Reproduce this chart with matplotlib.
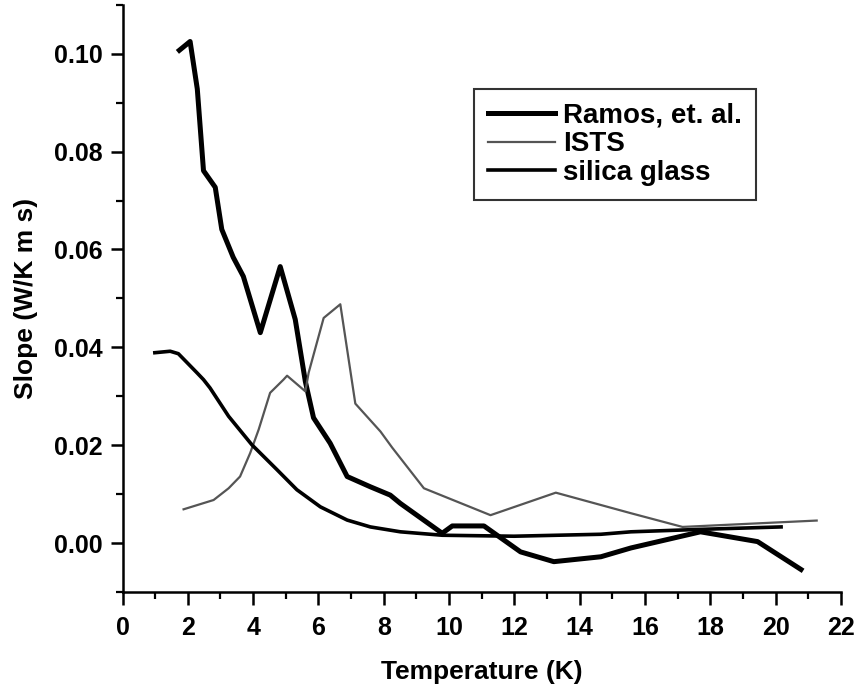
import matplotlib
matplotlib.use("Agg")
import matplotlib.pyplot as plt
from matplotlib.ticker import MultipleLocator, FormatStrFormatter

# ── Data ──────────────────────────────────────────────────────────────────────
ramos_t = [1.74, 2.07, 2.29, 2.48, 2.84, 3.04, 3.39, 3.70, 4.22, 4.83, 5.29,
           5.60, 5.85, 6.36, 6.88, 7.59, 8.20, 8.51, 9.79, 10.10, 11.07,
           12.19, 13.21, 14.65, 15.57, 17.70, 19.45, 20.78]
ramos_s = [0.1007, 0.1025, 0.0928, 0.0761, 0.0727, 0.0641, 0.0584, 0.0545,
           0.0430, 0.0565, 0.0457, 0.0330, 0.0256, 0.0204, 0.0136, 0.0115,
           0.0098, 0.0081, 0.0020, 0.0035, 0.0035, -0.0018, -0.0038,
           -0.0028, -0.0010, 0.0023, 0.0003, -0.0054]

ists_t = [1.87, 2.79, 3.25, 3.60, 3.91, 4.17, 4.52, 4.93, 5.04, 5.60, 5.70,
          6.16, 6.67, 7.13, 7.90, 8.26, 9.23, 11.27, 13.27, 15.57, 17.15,
          21.26]
ists_s = [0.0069, 0.0088, 0.0112, 0.0136, 0.0184, 0.0232, 0.0307, 0.0334,
          0.0342, 0.0310, 0.0348, 0.0460, 0.0488, 0.0285, 0.0228, 0.0195,
          0.0112, 0.0057, 0.0103, 0.0061, 0.0033, 0.0046]

silica_t = [0.99, 1.46, 1.71, 2.28, 2.48, 2.68, 3.25, 3.96, 4.73, 5.34, 6.06,
            6.88, 7.59, 8.51, 9.79, 11.99, 14.65, 15.57, 17.70, 20.17]
silica_s = [0.0389, 0.0392, 0.0387, 0.0348, 0.0334, 0.0317, 0.0259, 0.0201,
            0.0150, 0.0109, 0.0074, 0.0047, 0.0033, 0.0023, 0.0016, 0.0014,
            0.0018, 0.0023, 0.0028, 0.0033]

plt.rcParams["font.family"] = ["Liberation Sans", "DejaVu Sans"]
plt.rcParams["font.weight"] = "bold"

fig = plt.figure(figsize=(8.58, 6.84), dpi=100)
ax = fig.add_axes([0.1428, 0.1345, 0.8372, 0.8585])

ax.plot(ramos_t, ramos_s, color="black", lw=3.6, label="Ramos, et. al.",
        solid_joinstyle="round")
ax.plot(ists_t, ists_s, color="#555555", lw=1.6, label="ISTS")
ax.plot(silica_t, silica_s, color="black", lw=2.6, label="silica glass")

ax.set_xlim(0, 22)
ax.set_ylim(-0.010, 0.110)
ax.xaxis.set_major_locator(MultipleLocator(2))
ax.xaxis.set_minor_locator(MultipleLocator(1))
ax.yaxis.set_major_locator(MultipleLocator(0.02))
ax.yaxis.set_minor_locator(MultipleLocator(0.01))
ax.yaxis.set_major_formatter(FormatStrFormatter("%.2f"))

for side in ("top", "right"):
    ax.spines[side].set_visible(False)
for side in ("left", "bottom"):
    ax.spines[side].set_linewidth(1.8)

ax.tick_params(which="major", length=9, width=1.8, labelsize=18)
ax.tick_params(which="minor", length=5, width=1.6)
ax.tick_params(axis="x", which="major", pad=8)
ax.tick_params(axis="y", which="major", pad=5)

ax.set_xlabel("Temperature (K)", fontsize=19, fontweight="bold", labelpad=15)
ax.set_ylabel("Slope (W/K m s)", fontsize=19, fontweight="bold", labelpad=12)

leg = ax.legend(loc="upper left", bbox_to_anchor=(0.49, 0.857), fontsize=20,
                frameon=True, fancybox=False, handlelength=2.4,
                handletextpad=0.3, labelspacing=0.1, borderpad=0.5,
                borderaxespad=0)
leg.get_frame().set_edgecolor("black")
leg.get_frame().set_linewidth(1.5)

fig.savefig("out.png", dpi=100)
